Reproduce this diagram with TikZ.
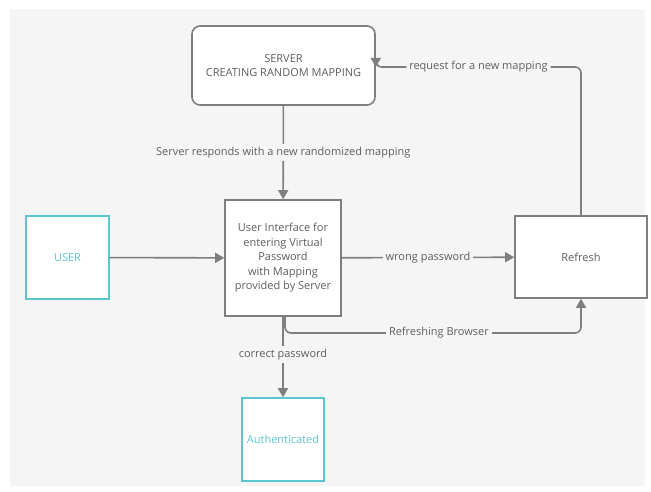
\documentclass[tikz,border=0pt]{standalone}
\usepackage{fontspec}
\setmainfont{Open Sans}
\usetikzlibrary{arrows.meta}
\definecolor{bg}{HTML}{F5F5F5}
\definecolor{ln}{HTML}{7E7E7E}
\definecolor{tx}{HTML}{5E5E5E}
\definecolor{cy}{HTML}{5CC6CF}
\begin{document}
\begin{tikzpicture}[x=1pt,y=-1pt,
  font=\fontsize{11}{14.5}\selectfont,
  box/.style={draw=ln,line width=1.6pt,fill=white,text=tx,align=center,inner sep=0pt},
  cbox/.style={draw=cy,line width=1.6pt,fill=white,text=cy,align=center,inner sep=0pt},
  conn/.style={draw=ln,line width=1.6pt,-{Triangle[length=9pt,width=10pt]}},
  lbl/.style={fill=bg,text=tx,inner sep=3pt}]
\useasboundingbox (0,0) rectangle (651,492);
\fill[white] (0,0) rectangle (651,492);
\fill[bg] (10,9) rectangle (645,486);
\node[box,rounded corners=8pt,minimum width=183pt,minimum height=79pt] (server) at (283.5,65.5) {SERVER\\CREATING RANDOM MAPPING};
\node[box,minimum width=116pt,minimum height=116pt] (ui) at (283,258) {User Interface for\\entering Virtual\\Password\\with Mapping\\provided by Server};
\node[cbox,minimum width=83pt,minimum height=83pt] (user) at (67.5,257.5) {USER};
\node[box,minimum width=132pt,minimum height=82pt] (refresh) at (581,257) {Refresh};
\node[cbox,minimum width=82pt,minimum height=83pt] (auth) at (283,439.5) {Authenticated};
\coordinate (rb) at (285,333);
\coordinate (rt) at (581,67);
\draw[conn] (server) -- node[lbl]{Server responds with a new randomized mapping} (ui);
\draw[conn] (user) -- (ui);
\draw[conn] (ui) -- node[lbl,pos=0.5]{wrong password} (refresh);
\draw[conn] (ui) -- node[lbl,pos=0.47]{correct password} (auth);
\draw[conn,rounded corners=6pt] (ui.south -| rb) -- (rb) -- node[lbl,pos=0.52]{Refreshing Browser} (rb -| refresh) -- (refresh.south);
\draw[conn,rounded corners=6pt] (refresh.north) -- (rt) -- node[lbl,pos=0.5]{request for a new mapping} (rt -| server.east) -- (server.east |- rt);
\end{tikzpicture}
\end{document}
